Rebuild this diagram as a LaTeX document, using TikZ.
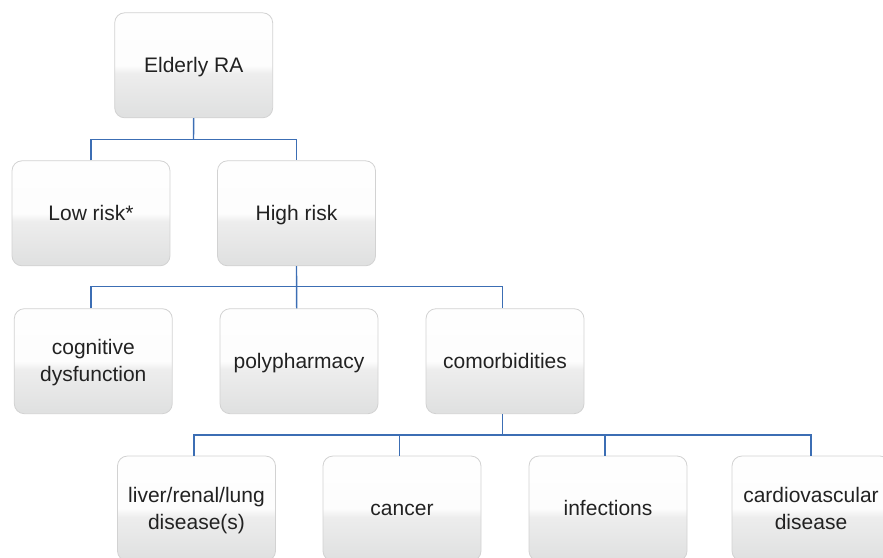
\documentclass[tikz,border=0pt]{standalone}
\usepackage{fontspec}
\setmainfont{Liberation Sans}
\definecolor{bxbot}{HTML}{DFE0E0}
\definecolor{bxmid}{HTML}{EDEDED}
\definecolor{bxtop}{HTML}{FDFDFD}
\definecolor{bxline}{HTML}{D2D2D2}
\definecolor{conn}{HTML}{3C6EB4}
\definecolor{txt}{HTML}{222222}
\newcommand\bxstrut{\rule[-6pt]{0pt}{26pt}}
\pgfdeclareverticalshading{boxsh}{100bp}{color(0bp)=(bxbot); color(25bp)=(bxbot); color(46bp)=(bxmid); color(50bp)=(bxtop); color(100bp)=(white)}
\begin{document}
\begin{tikzpicture}[x=1pt,y=-1pt,
  box/.style={rectangle, rounded corners=10pt, minimum width=158pt, minimum height=105pt,
    draw=bxline, line width=0.8pt, shading=boxsh, text=txt, align=center,
    font=\fontsize{21}{25.5}\selectfont, inner sep=0pt},
  link/.style={draw=conn, line width=1.4pt}]
\useasboundingbox (0,0) rectangle (883,557);
\clip (0,0) rectangle (883,557);
\node[box] (top) at (193.7,65.3) {Elderly RA\bxstrut};
\node[box] (low) at (91,213.3) {Low risk*\bxstrut};
\node[box] (high) at (296.5,213.3) {High risk\bxstrut};
\node[box] (cog) at (93.3,361.2) {cognitive\bxstrut\\dysfunction\bxstrut};
\node[box] (poly) at (299,361.2) {polypharmacy\bxstrut};
\node[box] (comor) at (505,361.2) {comorbidities\bxstrut};
\node[box] (liver) at (196.5,508.5) {liver/renal/lung\bxstrut\\disease(s)\bxstrut};
\node[box] (cancer) at (402,508.5) {cancer\bxstrut};
\node[box] (infect) at (608,508.5) {infections\bxstrut};
\node[box] (cardio) at (811,508.5) {cardiovascular\bxstrut\\disease\bxstrut};
% row 1 -> 2
\coordinate (b1) at (193.5,139.3);
\draw[link] (top.south) -- (b1);
\draw[link] (low.north) |- (b1) -| (high.north);
% row 2 -> 3
\coordinate (b2) at (296.7,286.7);
\draw[link] (high.south) -- ([xshift=-2.3pt]poly.north);
\draw[link] ([xshift=-2.5pt]cog.north) |- (b2) -| ([xshift=-2.7pt]comor.north);
% row 3 -> 4
\coordinate (b3) at (502.3,435);
\draw[link] ([xshift=-2.7pt]comor.south) -- (b3);
\draw[link] ([xshift=-2.5pt]liver.north) |- (b3) -| (cardio.north);
\draw[link] ([xshift=-2.6pt]cancer.north) -- ([xshift=-2.6pt]cancer.north |- b3);
\draw[link] ([xshift=-3pt]infect.north) -- ([xshift=-3pt]infect.north |- b3);
\end{tikzpicture}
\end{document}
